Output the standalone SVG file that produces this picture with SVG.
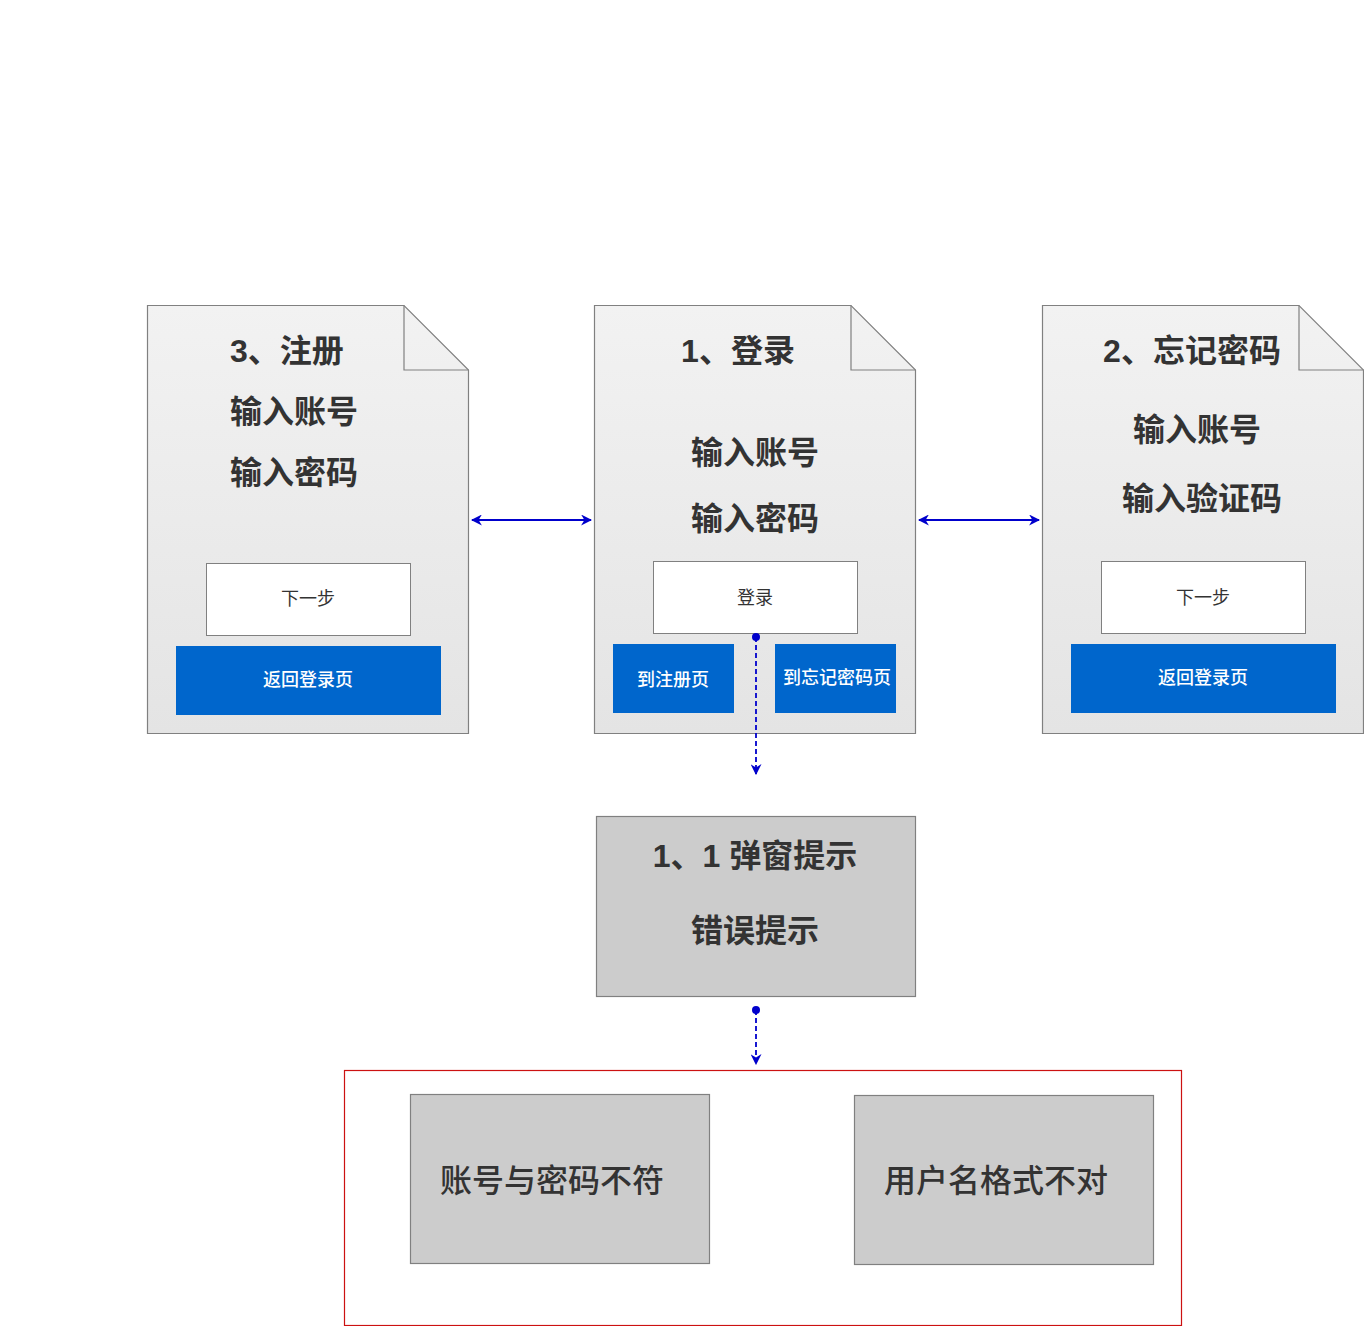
<svg xmlns="http://www.w3.org/2000/svg" width="1364" height="1326" viewBox="0 0 1364 1326">
<defs>
<linearGradient id="docg" x1="0" y1="0" x2="0" y2="1">
<stop offset="0" stop-color="#f2f2f2"/>
<stop offset="1" stop-color="#e4e4e4"/>
</linearGradient>
<marker id="ah" viewBox="0 0 10 10" refX="9" refY="5" markerWidth="11" markerHeight="11" markerUnits="userSpaceOnUse" orient="auto-start-reverse">
<path d="M0,0 L10,5 L0,10 L3,5 Z" fill="#0000cc"/>
</marker>
<marker id="dot" viewBox="0 0 10 10" refX="5" refY="5" markerWidth="8" markerHeight="8" markerUnits="userSpaceOnUse">
<circle cx="5" cy="5" r="5" fill="#0000cc"/>
</marker>
</defs>
<style>
.doc{fill:url(#docg);stroke:#808080;stroke-width:1.2}
.fold{fill:none;stroke:#808080;stroke-width:1.2}
.wbtn{fill:#ffffff;stroke:#808080;stroke-width:1}
.bbtn{fill:#0066cc}
.gbox{fill:#cccccc;stroke:#808080;stroke-width:1.2}
.t{font-family:"Liberation Sans","Noto Sans CJK SC",sans-serif;fill:#333333}
.big{font-size:32px;font-weight:bold}
.mid{font-size:32px;font-weight:500}
.bt{font-size:18px;fill:#333333}
.wt{font-size:18px;fill:#ffffff;font-weight:500}
.con{stroke:#0000cc;stroke-width:1.8;fill:none}
.dash{stroke-dasharray:5 3}
</style>
<rect width="1364" height="1326" fill="#ffffff"/>

<g id="node-register">
<path class="doc" d="M147.5,305.5 H404 L468.5,370 V733.5 H147.5 Z"/>
<path class="fold" d="M404,305.5 V370 H468.5"/>
<text class="t big" x="230" y="362">3、注册</text>
<text class="t big" x="230" y="423">输入账号</text>
<text class="t big" x="230" y="484">输入密码</text>
<rect class="wbtn" x="206.5" y="563.5" width="204" height="72"/>
<text class="t bt" x="308" y="605" text-anchor="middle">下一步</text>
<rect class="bbtn" x="176" y="646" width="265" height="69"/>
<text class="t wt" x="308" y="686" text-anchor="middle">返回登录页</text>
</g>

<g id="node-login">
<path class="doc" d="M594.5,305.5 H851 L915.5,370 V733.5 H594.5 Z"/>
<path class="fold" d="M851,305.5 V370 H915.5"/>
<text class="t big" x="738" y="362" text-anchor="middle">1、登录</text>
<text class="t big" x="755" y="464" text-anchor="middle">输入账号</text>
<text class="t big" x="755" y="530" text-anchor="middle">输入密码</text>
<rect class="wbtn" x="653.5" y="561.5" width="204" height="72"/>
<text class="t bt" x="755" y="604" text-anchor="middle">登录</text>
<rect class="bbtn" x="613" y="644" width="121" height="69"/>
<text class="t wt" x="673" y="686" text-anchor="middle">到注册页</text>
<rect class="bbtn" x="775" y="644" width="121" height="69"/>
<text class="t wt" x="837" y="684" text-anchor="middle">到忘记密码页</text>
</g>

<g id="node-forgot">
<path class="doc" d="M1042.5,305.5 H1299 L1363.5,370 V733.5 H1042.5 Z"/>
<path class="fold" d="M1299,305.5 V370 H1363.5"/>
<text class="t big" x="1192" y="362" text-anchor="middle">2、忘记密码</text>
<text class="t big" x="1197" y="441" text-anchor="middle">输入账号</text>
<text class="t big" x="1202" y="510" text-anchor="middle">输入验证码</text>
<rect class="wbtn" x="1101.5" y="561.5" width="204" height="72"/>
<text class="t bt" x="1203" y="604" text-anchor="middle">下一步</text>
<rect class="bbtn" x="1071" y="644" width="265" height="69"/>
<text class="t wt" x="1203" y="684" text-anchor="middle">返回登录页</text>
</g>

<g id="node-popup">
<rect class="gbox" x="596.5" y="816.5" width="319" height="180"/>
<text class="t big" x="755" y="867" text-anchor="middle">1、1 弹窗提示</text>
<text class="t big" x="755" y="942" text-anchor="middle">错误提示</text>
</g>

<g id="node-errors">
<rect x="344.5" y="1070.5" width="837" height="255" fill="none" stroke="#cc1111" stroke-width="1.2"/>
</g>

<g id="node-mismatch">
<rect class="gbox" x="410.5" y="1094.5" width="299" height="169"/>
<text class="t mid" x="552" y="1192" text-anchor="middle">账号与密码不符</text>
</g>

<g id="node-format">
<rect class="gbox" x="854.5" y="1095.5" width="299" height="169"/>
<text class="t mid" x="996" y="1192" text-anchor="middle">用户名格式不对</text>
</g>

<g id="connectors">
<line class="con" x1="472" y1="520" x2="591" y2="520" marker-start="url(#ah)" marker-end="url(#ah)"/>
<line class="con" x1="919" y1="520" x2="1039" y2="520" marker-start="url(#ah)" marker-end="url(#ah)"/>
<line class="con dash" x1="756" y1="637" x2="756" y2="774" marker-start="url(#dot)" marker-end="url(#ah)"/>
<line class="con dash" x1="756" y1="1010" x2="756" y2="1064" marker-start="url(#dot)" marker-end="url(#ah)"/>
</g>
</svg>
